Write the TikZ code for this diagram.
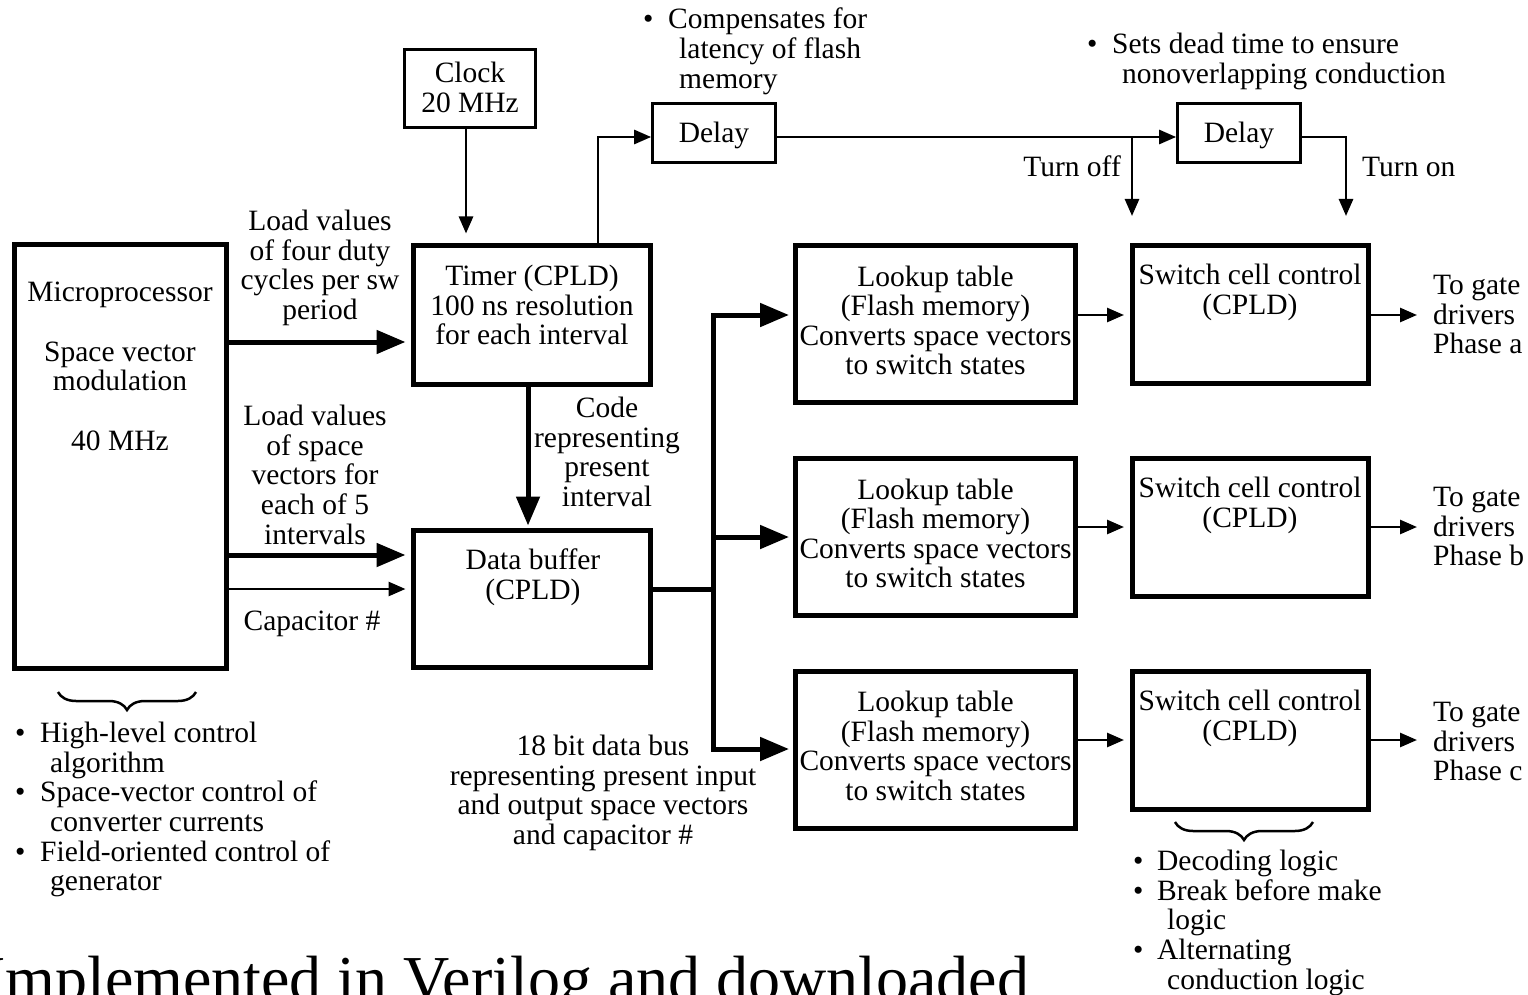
\documentclass[tikz,border=0pt]{standalone}
\usepackage{fontspec}
\setmainfont{Liberation Serif}
\usetikzlibrary{arrows.meta,decorations.pathreplacing}
\newcommand\mybul{\makebox[25pt][l]{\textbullet}}
\begin{document}
\tikzset{
 txt/.style={font=\fontsize{29.5}{29.6}\selectfont, inner sep=0pt, align=center},
 ltxt/.style={font=\fontsize{29.5}{29.6}\selectfont, inner sep=0pt, align=left},
 thickbox/.style={draw, line width=5pt, inner sep=0pt},
 thinbox/.style={draw, line width=2.7pt, inner sep=0pt},
 thickarrow/.style={line width=5pt, -{Triangle[length=29pt,width=23pt]}},
 thinarrow/.style={line width=2.7pt, -{Triangle[length=17pt,width=14pt]}},
 thickline/.style={line width=5pt},
 thinline/.style={line width=2.7pt},
 bracestyle/.style={decorate, decoration={brace, mirror, amplitude=18pt}, line width=2.5pt},
}
\begin{tikzpicture}[x=1pt,y=-1pt]
\useasboundingbox (0,0) rectangle (1528,995);
\clip (0,0) rectangle (1528,995);

% boxes
\node[thickbox, minimum width=212pt, minimum height=424pt] (micro) at (120,456) {};
\node[thickbox, minimum width=237pt, minimum height=139pt] (timer) at (531.5,314.5) {};
\node[thickbox, minimum width=237pt, minimum height=137pt] (buffer) at (531.5,598.5) {};
\node[thinbox, minimum width=131pt, minimum height=78pt] (clock) at (470,88.5) {};
\node[thinbox, minimum width=123pt, minimum height=59pt] (delay1) at (714,133) {};
\node[thinbox, minimum width=123pt, minimum height=59pt] (delay2) at (1239,133) {};
\node[thickbox, minimum width=280pt, minimum height=157pt] (lookup1) at (935.5,324) {};
\node[thickbox, minimum width=280pt, minimum height=157pt] (lookup2) at (935.5,537) {};
\node[thickbox, minimum width=280pt, minimum height=157pt] (lookup3) at (935.5,749.5) {};
\node[thickbox, minimum width=236pt, minimum height=138pt] (switch1) at (1250.5,314.5) {};
\node[thickbox, minimum width=236pt, minimum height=138pt] (switch2) at (1250.5,527.5) {};
\node[thickbox, minimum width=236pt, minimum height=138pt] (switch3) at (1250.5,740.5) {};

% box texts
\node[txt, anchor=north] (microtext) at (120,282) {Microprocessor\\[30pt]Space vector\\modulation\\[29.5pt]40 MHz};
\node[txt, anchor=north] (timertext) at (532,265) {Timer (CPLD)\\100 ns resolution\\for each interval};
\node[txt, anchor=north] (buffertext) at (533,549) {Data buffer\\(CPLD)};
\node[txt, anchor=north] (clocktext) at (470,62) {Clock\\20 MHz};
\node[txt, anchor=base] (delay1text) at (714,143) {Delay};
\node[txt, anchor=base] (delay2text) at (1239,143) {Delay};
\node[txt, anchor=north] (lookup1text) at (935.5,265.5) {Lookup table\\(Flash memory)\\Converts space vectors\\to switch states};
\node[txt, anchor=north] (lookup2text) at (935.5,478.5) {Lookup table\\(Flash memory)\\Converts space vectors\\to switch states};
\node[txt, anchor=north] (lookup3text) at (935.5,691) {Lookup table\\(Flash memory)\\Converts space vectors\\to switch states};
\node[txt, anchor=north] (switch1text) at (1250,264) {Switch cell control\\(CPLD)};
\node[txt, anchor=north] (switch2text) at (1250,477) {Switch cell control\\(CPLD)};
\node[txt, anchor=north] (switch3text) at (1250,690) {Switch cell control\\(CPLD)};

% labels
\node[txt, anchor=north] (load1) at (320,210) {Load values\\of four duty\\cycles per sw\\period};
\node[txt, anchor=north] (load2) at (315,405) {Load values\\of space\\vectors for\\each of 5\\intervals};
\node[txt, anchor=base] (cap) at (312,630) {Capacitor \#};
\node[txt, anchor=north] (code) at (607,397) {Code\\representing\\present\\interval};
\node[txt, anchor=north] (bus) at (603,735) {18 bit data bus\\representing present input\\and output space vectors\\and capacitor \#};
\node[ltxt, anchor=north west] (comp) at (643,8) {\makebox[25pt][l]{\textbullet}Compensates for\\\hspace*{36pt}latency of flash\\\hspace*{36pt}memory};
\node[ltxt, anchor=north west] (sets) at (1087,33) {\makebox[25pt][l]{\textbullet}Sets dead time to ensure\\\hspace*{35pt}nonoverlapping conduction};
\node[txt, anchor=base east] (turnoff) at (1121,177) {Turn off};
\node[txt, anchor=base west] (turnon) at (1362,177) {Turn on};
\node[ltxt, anchor=north west] (gate1) at (1433,275) {To gate\\drivers\\Phase a};
\node[ltxt, anchor=north west] (gate2) at (1433,487) {To gate\\drivers\\Phase b};
\node[ltxt, anchor=north west] (gate3) at (1433,702) {To gate\\drivers\\Phase c};
\node[ltxt, anchor=north west] (microbul) at (15,722) {\mybul High-level control\\\hspace*{35pt}algorithm\\\mybul Space-vector control of\\\hspace*{35pt}converter currents\\\mybul Field-oriented control of\\\hspace*{35pt}generator};
\node[ltxt, anchor=north west] (switchbul) at (1133,850) {\makebox[24pt][l]{\textbullet}Decoding logic\\\makebox[24pt][l]{\textbullet}Break before make\\\hspace*{34pt}logic\\\makebox[24pt][l]{\textbullet}Alternating\\\hspace*{34pt}conduction logic};
\node[font=\fontsize{64}{70}\selectfont, inner sep=0pt, anchor=base west] (impl) at (-16,1000) {Implemented in Verilog and downloaded};

% braces
\coordinate (b1l) at (58,692);
\coordinate (b1r) at (196,692);
\draw[bracestyle] (b1l) -- (b1r);
\coordinate (b2l) at (1175,822);
\coordinate (b2r) at (1313,822);
\draw[bracestyle] (b2l) -- (b2r);

% connectors
\draw[thickarrow, shorten >=5pt] (micro.east |- 0,342) -- (timer.west |- 0,342);
\draw[thickarrow, shorten >=5pt] (micro.east |- 0,555) -- (buffer.west |- 0,555);
\draw[thinarrow, shorten >=5pt] (micro.east |- 0,589) -- (buffer.west |- 0,589);
\draw[thinarrow, shorten >=9pt] (466,0 |- clock.south) -- (466,0 |- timer.north);
\draw[thickarrow, shorten >=2pt] (528,0 |- timer.south) -- (528,0 |- buffer.north);
\draw[thinarrow] (598,0 |- timer.north) |- (delay1.west |- 0,137);
\draw[thinarrow] (delay1.east |- 0,137) -- (delay2.west |- 0,137);
\coordinate (tjoin) at (1132,137);
\coordinate (toffend) at (1132,216);
\coordinate (tonend) at (1346,216);
\draw[thinarrow] (tjoin) -- (toffend);
\draw[thinarrow] (delay2.east |- 0,137) -| (tonend);

\coordinate (busjoin) at (713,589);
\coordinate (bustop) at (713,315);
\coordinate (busmid) at (713,537);
\coordinate (busbot) at (713,749);
\draw[thickline] (buffer.east |- busjoin) -- (busjoin);
\draw[thickarrow, shorten >=4pt] (busbot) -- (bustop) -- (lookup1.west |- bustop);
\draw[thickarrow, shorten >=4pt] (busmid) -- (lookup2.west |- busmid);
\draw[thickarrow, shorten >=4pt] (bustop) -- (busbot) -- (lookup3.west |- busbot);

\draw[thinarrow, shorten >=6pt] (lookup1.east |- 0,315) -- (switch1.west |- 0,315);
\draw[thinarrow, shorten >=6pt] (lookup2.east |- 0,527) -- (switch2.west |- 0,527);
\draw[thinarrow, shorten >=6pt] (lookup3.east |- 0,740) -- (switch3.west |- 0,740);
\coordinate (g1) at (1417,315);
\coordinate (g2) at (1417,527);
\coordinate (g3) at (1417,740);
\draw[thinarrow] (switch1.east |- g1) -- (g1);
\draw[thinarrow] (switch2.east |- g2) -- (g2);
\draw[thinarrow] (switch3.east |- g3) -- (g3);
\end{tikzpicture}
\end{document}
